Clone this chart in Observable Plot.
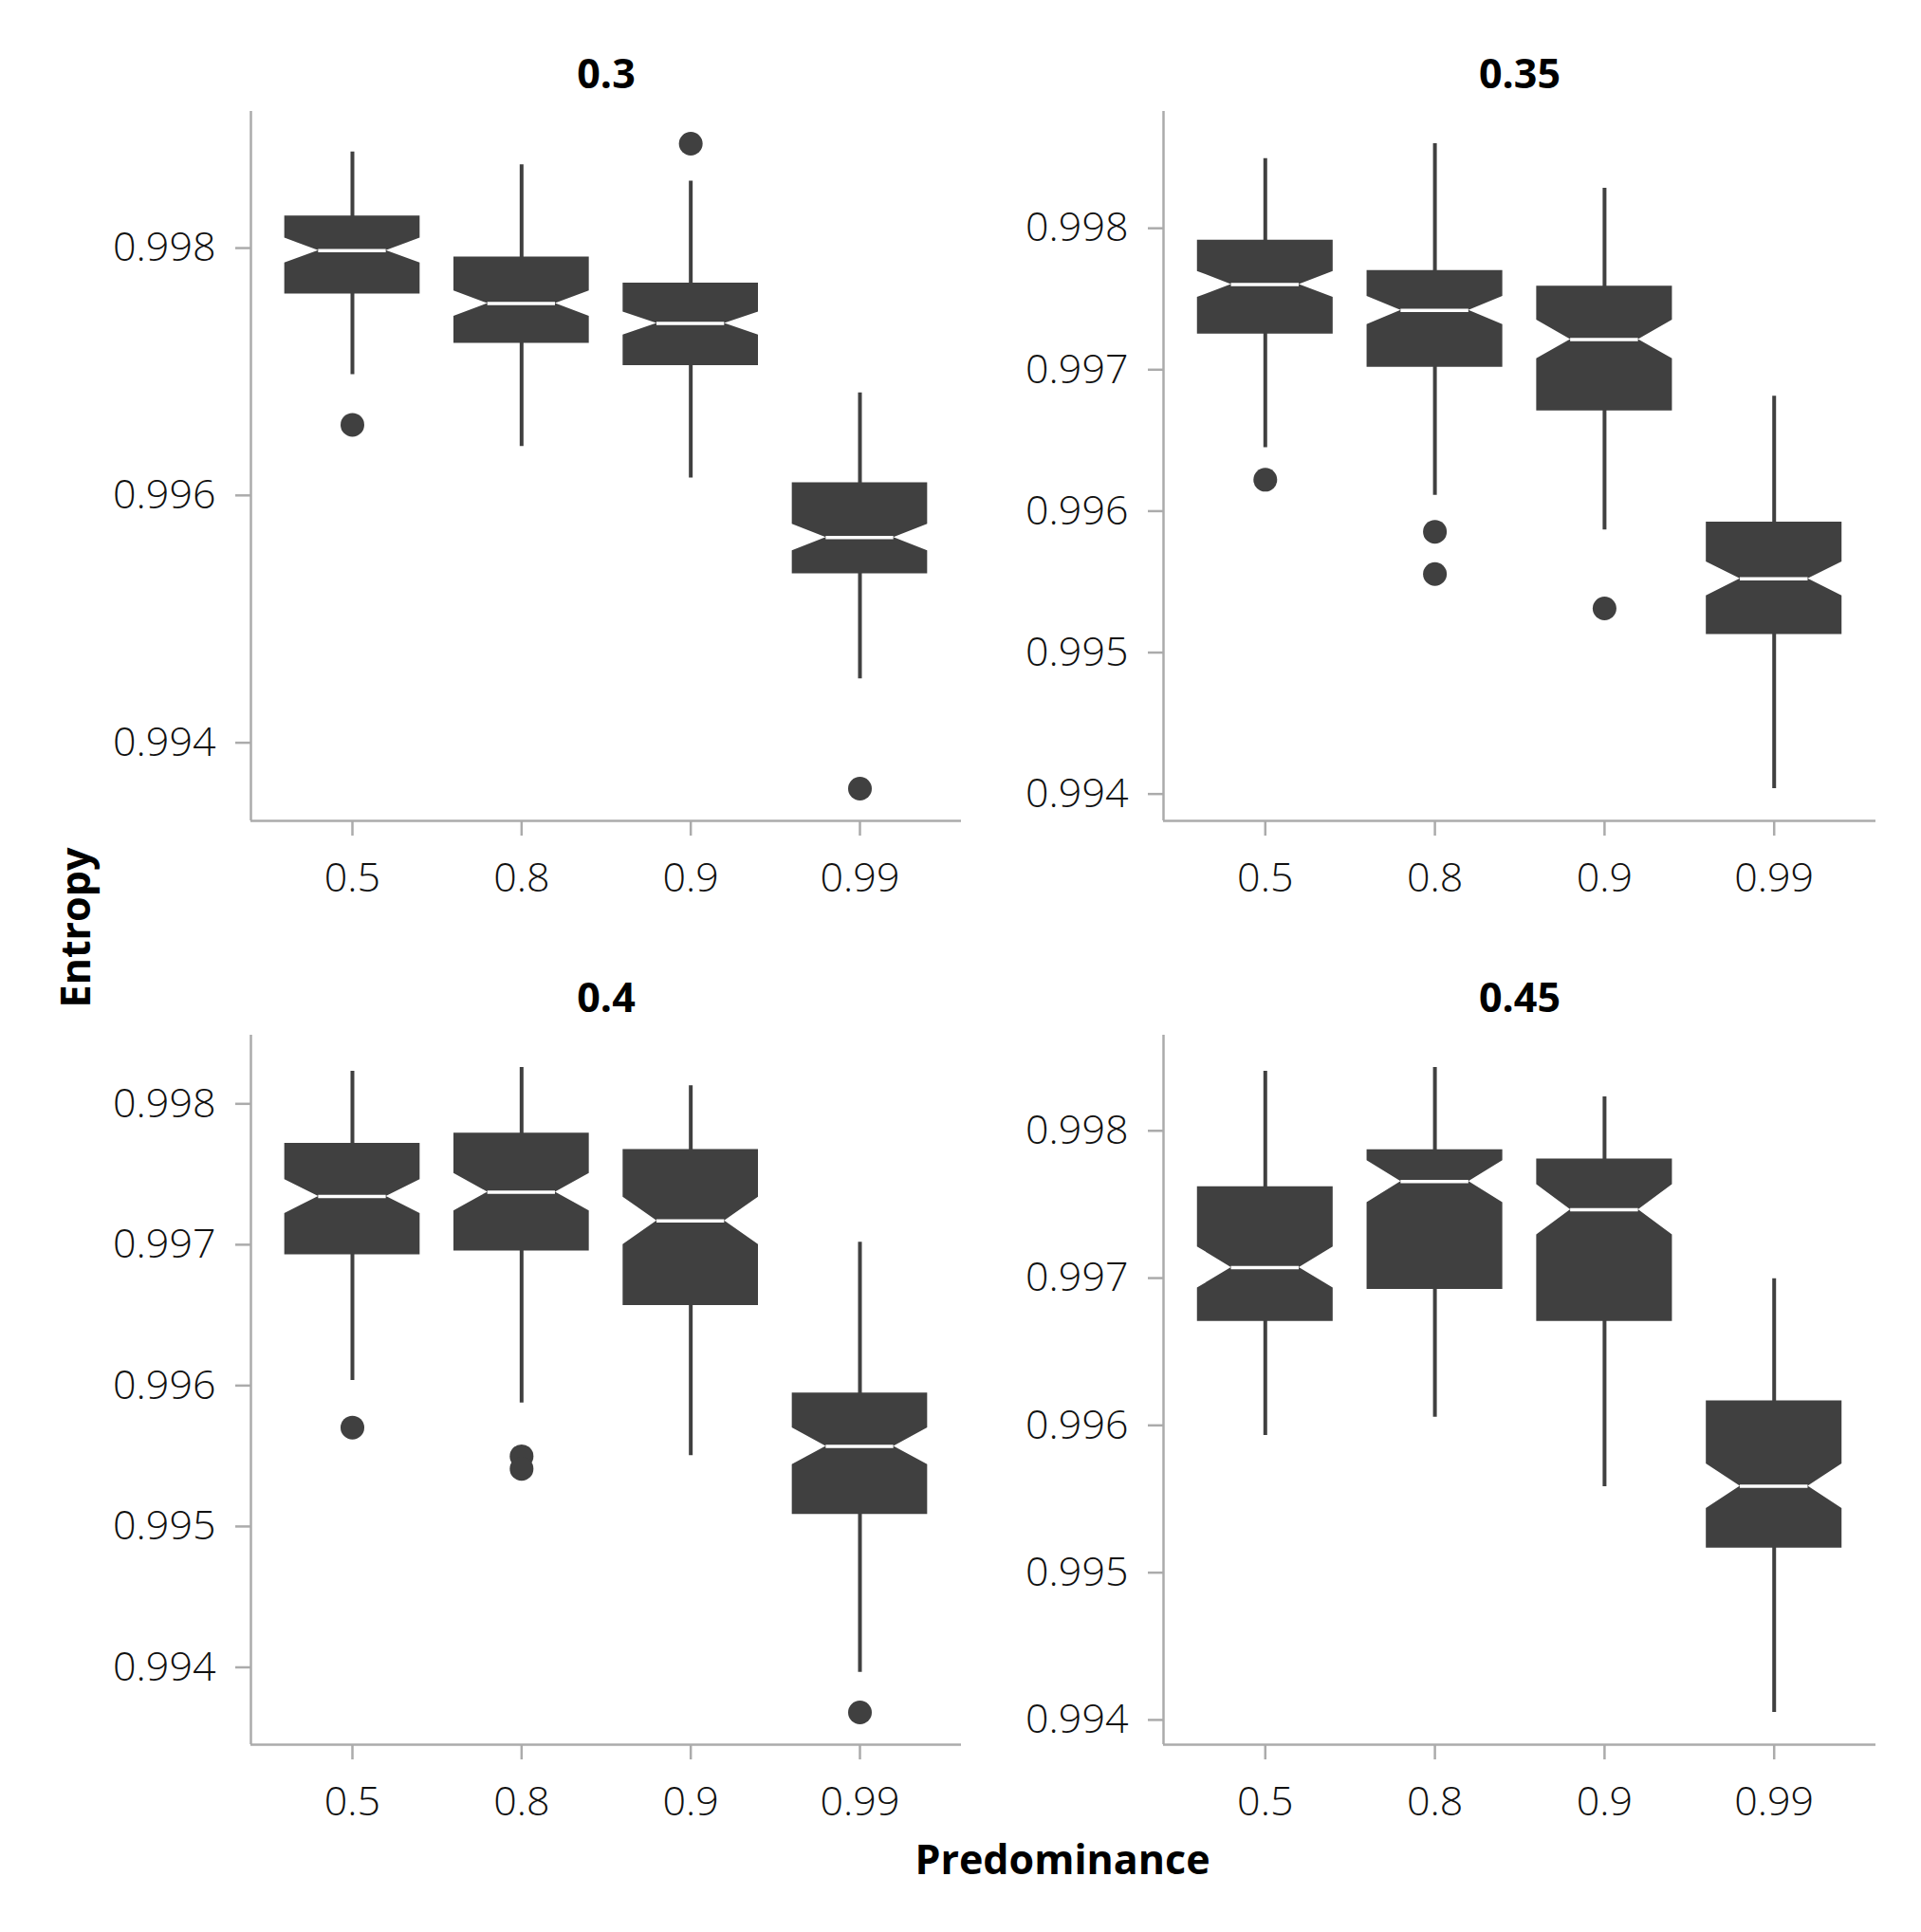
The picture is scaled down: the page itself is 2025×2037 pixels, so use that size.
<!DOCTYPE html>
<html>
<head>
<meta charset="utf-8">
<script src="https://cdn.jsdelivr.net/npm/d3@7"></script>
<script src="https://cdn.jsdelivr.net/npm/@observablehq/plot@0.6"></script>
<style>
  html, body { margin: 0; padding: 0; background: white; }
  #chart { position: relative; width: 2025px; height: 2037px; background: white; font-family: "Open Sans", sans-serif; }
  #chart svg { position: absolute; background: none; max-width: none; }
  .lab { position: absolute; font-weight: 700; font-size: 43px; color: #000; white-space: nowrap; }
</style>
</head>
<body>
<div id="chart"></div>
<script>
// ---- data ----
const facets = ["0.3", "0.35", "0.4", "0.45"];
const predominance = ["0.5", "0.8", "0.9", "0.99"];

// per facet, per predominance level
const whiskerLow = [
  [0.996976, 0.996395, 0.996141, 0.994517],
  [0.996449, 0.996111, 0.995867, 0.994038],
  [0.996036, 0.995876, 0.995502, 0.993965],
  [0.995932, 0.996055, 0.995583, 0.994051]
];
const lowerHinge = [
  [0.997629, 0.997229, 0.997049, 0.995366],
  [0.997252, 0.997017, 0.996709, 0.995128],
  [0.996929, 0.996956, 0.996569, 0.995085],
  [0.996706, 0.996923, 0.996706, 0.995166]
];
const median = [
  [0.997980, 0.997551, 0.997390, 0.995659],
  [0.997603, 0.997419, 0.997214, 0.995521],
  [0.997342, 0.997373, 0.997169, 0.995569],
  [0.997072, 0.997655, 0.997464, 0.995587]
];
const upperHinge = [
  [0.998259, 0.997927, 0.997717, 0.996102],
  [0.997915, 0.997701, 0.997590, 0.995923],
  [0.997720, 0.997791, 0.997676, 0.995947],
  [0.997621, 0.997872, 0.997809, 0.996166]
];
const whiskerHigh = [
  [0.998776, 0.998673, 0.998541, 0.996829],
  [0.998492, 0.998598, 0.998282, 0.996812],
  [0.998231, 0.998258, 0.998129, 0.997018],
  [0.998404, 0.998430, 0.998230, 0.996996]
];
// half height of the notch around the median
const notchHalf = [
  [0.000100, 0.000102, 0.000093, 0.000107],
  [0.000092, 0.000100, 0.000137, 0.000120],
  [0.000120, 0.000133, 0.000169, 0.000131],
  [0.000140, 0.000143, 0.000170, 0.000151]
];
// outliers: [facet index, predominance index, entropy]
const outliers = [
  [0, 0, 0.996571], [0, 2, 0.998844], [0, 3, 0.993629],
  [1, 0, 0.996222], [1, 1, 0.995854], [1, 1, 0.995555], [1, 2, 0.995312],
  [2, 0, 0.995702], [2, 1, 0.995498], [2, 1, 0.995409], [2, 3, 0.993680]
];
const yTickSets = [
  [0.994, 0.996, 0.998],
  [0.994, 0.995, 0.996, 0.997, 0.998],
  [0.994, 0.995, 0.996, 0.997, 0.998],
  [0.994, 0.995, 0.996, 0.997, 0.998]
];

// ---- drawing ----
const BOX = "#404040";
const AXIS = "#ababab";
const FONT = "'Open Sans', sans-serif";
const chart = document.getElementById("chart");

const layout = [
  {left: 0,    top: 0,   width: 1020, height: 975, mL: 264, mR: 7,  mT: 117, mB: 110},
  {left: 1020, top: 0,   width: 1005, height: 975, mL: 206, mR: 48, mT: 117, mB: 110},
  {left: 0,    top: 975, width: 1020, height: 975, mL: 264, mR: 7,  mT: 116, mB: 111},
  {left: 1020, top: 975, width: 1005, height: 975, mL: 206, mR: 48, mT: 116, mB: 111}
];

facets.forEach((f, fi) => {
  const idx = d3.range(predominance.length);
  const boxes = idx.map(i => ({
    i,
    wl: whiskerLow[fi][i], q1: lowerHinge[fi][i], med: median[fi][i],
    q3: upperHinge[fi][i], wh: whiskerHigh[fi][i], nh: notchHalf[fi][i]
  }));
  const outs = outliers.filter(o => o[0] === fi).map(o => ({i: o[1], v: o[2]}));

  // notched box outline as an x1/x2 band along y
  const poly = [];
  for (const b of boxes) {
    const outer = 0.4, inner = 0.2;
    const nlo = Math.max(b.q1, b.med - b.nh), nhi = Math.min(b.q3, b.med + b.nh);
    poly.push({i: b.i, y: b.q1, x1: b.i - outer, x2: b.i + outer});
    poly.push({i: b.i, y: nlo, x1: b.i - outer, x2: b.i + outer});
    poly.push({i: b.i, y: b.med, x1: b.i - inner, x2: b.i + inner});
    poly.push({i: b.i, y: nhi, x1: b.i - outer, x2: b.i + outer});
    poly.push({i: b.i, y: b.q3, x1: b.i - outer, x2: b.i + outer});
  }

  const allVals = boxes.flatMap(b => [b.wl, b.wh]).concat(outs.map(o => o.v));
  const lo = d3.min(allVals), hi = d3.max(allVals);
  const pad = (hi - lo) * 0.05;
  const yDomain = [lo - pad, hi + pad];
  const xDomain = [-0.6, predominance.length - 1 + 0.6];

  const L = layout[fi];
  const svg = Plot.plot({
    width: L.width, height: L.height,
    marginLeft: L.mL, marginRight: L.mR, marginTop: L.mT, marginBottom: L.mB,
    style: {fontFamily: FONT, fontSize: "43px", fontWeight: 300, background: "none", overflow: "visible"},
    x: {domain: xDomain, axis: null},
    y: {domain: yDomain, axis: null},
    marks: [
      Plot.ruleX([xDomain[0]], {stroke: AXIS, strokeWidth: 2.5}),
      Plot.ruleY([yDomain[0]], {stroke: AXIS, strokeWidth: 2.5}),
      Plot.axisX(idx, {
        tickFormat: i => predominance[i], tickSize: 16, tickPadding: 28,
        stroke: AXIS, strokeWidth: 2.5, fill: "#111", fontSize: 43, fontWeight: 300
      }),
      Plot.axisY(yTickSets[fi], {
        tickFormat: d3.format(".3f"), tickSize: 16, tickPadding: 21,
        stroke: AXIS, strokeWidth: 2.5, fill: "#111", fontSize: 43, fontWeight: 300
      }),
      Plot.ruleX(boxes, {x: "i", y1: "wl", y2: "wh", stroke: BOX, strokeWidth: 4}),
      Plot.areaX(poly, {y: "y", x1: "x1", x2: "x2", z: "i", fill: BOX, curve: "linear"}),
      Plot.ruleY(boxes, {y: "med", x1: d => d.i - 0.2, x2: d => d.i + 0.2, stroke: "white", strokeWidth: 3.5}),
      Plot.dot(outs, {x: "i", y: "v", r: 12.5, fill: BOX, stroke: null}),
      Plot.text([f], {frameAnchor: "top", dy: -55, fontWeight: 700, fontSize: 43, fill: "#000"})
    ]
  });
  svg.style.left = L.left + "px";
  svg.style.top = L.top + "px";
  chart.appendChild(svg);
});

// shared axis titles
const ylab = document.createElement("div");
ylab.className = "lab";
ylab.textContent = "Entropy";
ylab.style.left = "78px";
ylab.style.top = "978px";
ylab.style.transform = "translate(-50%, -50%) rotate(-90deg)";
chart.appendChild(ylab);

const xlab = document.createElement("div");
xlab.className = "lab";
xlab.textContent = "Predominance";
xlab.style.left = "1120px";
xlab.style.top = "1959px";
xlab.style.transform = "translate(-50%, -50%)";
chart.appendChild(xlab);
</script>
</body>
</html>
